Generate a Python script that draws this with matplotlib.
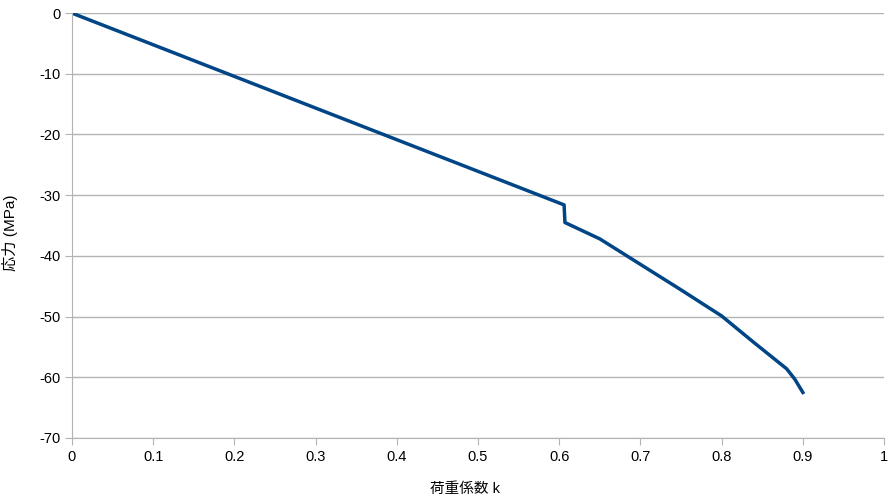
import matplotlib
matplotlib.use("Agg")
import matplotlib.pyplot as plt

plt.rcParams['font.family'] = ['Liberation Sans', 'Noto Sans CJK JP', 'DejaVu Sans']
plt.rcParams['axes.unicode_minus'] = False

k_values = [0.0, 0.606, 0.607, 0.65, 0.70, 0.75, 0.80, 0.84, 0.88, 0.89, 0.90]
stress = [0.0, -31.6, -34.5, -37.2, -41.4, -45.6, -49.9, -54.3, -58.6, -60.3, -62.5]

x_ticks = [0, 0.1, 0.2, 0.3, 0.4, 0.5, 0.6, 0.7, 0.8, 0.9, 1]
y_ticks = [0, -10, -20, -30, -40, -50, -60, -70]

fig = plt.figure(figsize=(8.93, 5.04), dpi=100)
ax = fig.add_axes([0.0806, 0.131, 0.9094, 0.843])

ax.plot(k_values, stress, color='#004586', linewidth=2.5, solid_joinstyle='round')

ax.set_xlim(0, 1)
ax.set_ylim(-70, 0)
ax.set_xticks(x_ticks)
ax.set_xticklabels([f"{t:g}" for t in x_ticks])
ax.set_yticks(y_ticks)

ax.grid(True, axis='y', color='#b3b3b3', linewidth=1)
ax.set_axisbelow(True)
for side in ['top', 'right']:
    ax.spines[side].set_visible(False)
for side in ['left', 'bottom']:
    ax.spines[side].set_color('#b3b3b3')
ax.tick_params(axis='both', colors='#b3b3b3', labelcolor='black', labelsize=10.5, length=5, direction='out')

ax.set_xlabel("荷重係数 k", fontsize=10.5)
ax.xaxis.set_label_coords(0.484, -0.104)
ax.set_ylabel("応力 (MPa)", fontsize=11)
ax.yaxis.set_label_coords(-0.066, 0.483)

fig.savefig("out.png", dpi=100)
